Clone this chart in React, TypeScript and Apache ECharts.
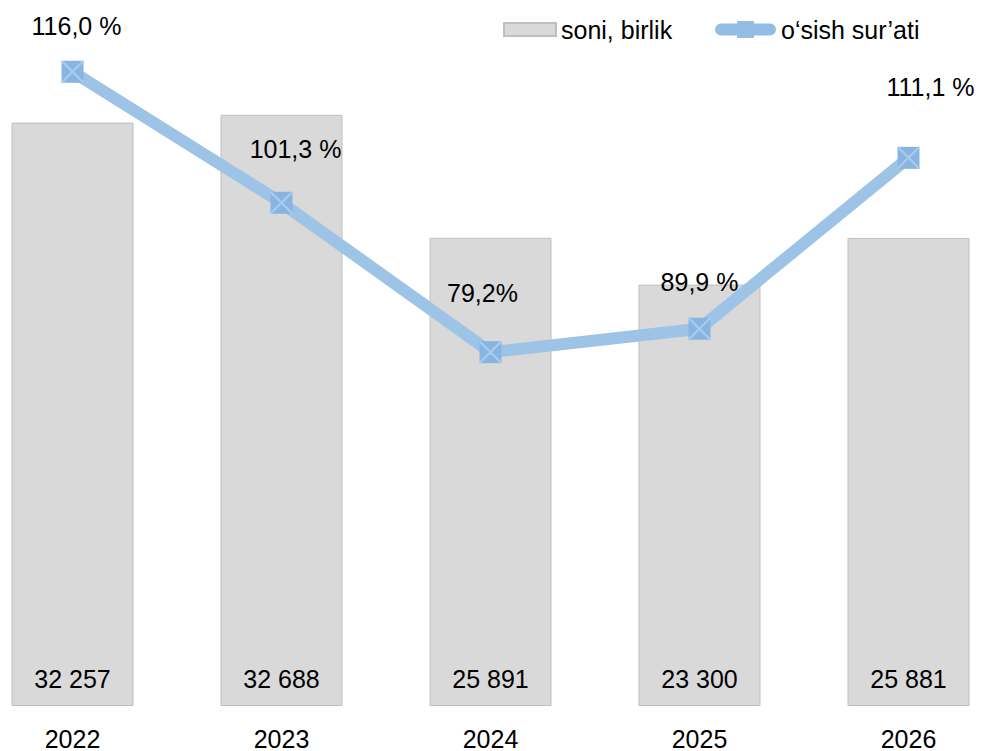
import React, { useEffect, useRef } from "react";
import * as echarts from "echarts";

const years = ["2022", "2023", "2024", "2025", "2026"];
const counts = [32257, 32688, 25891, 23300, 25881];
const countLabels = ["32 257", "32 688", "25 891", "23 300", "25 881"];
// plotted positions of the growth line (on a hidden 0–100 secondary axis)
const growthLinePos = [100.2, 79.5, 55.9, 59.6, 86.6];
const growthLabels = ["116,0 %", "101,3 %", "79,2%", "89,9 %", "111,1 %"];
const growthLabelOffsets = [
  [4, -46],
  [14, -54],
  [-8, -59],
  [0, -47],
  [22, -71],
];

const FONT = "Liberation Sans, Arial, sans-serif";
const X_PATH =
  "path://M0,0 L7,0 L50,43 L93,0 L100,0 L100,7 L57,50 L100,93 L100,100 L93,100 L50,57 L7,100 L0,100 L0,93 L43,50 L0,7 Z";
const LEGEND_LINE_ICON =
  "path://M6,2.5 L55,2.5 A6,6 0 0 1 55,14.5 L6,14.5 A6,6 0 0 1 6,2.5 Z M22,0 L39,0 L39,17 L22,17 Z";

export default function App() {
  const ref = useRef<HTMLDivElement>(null);
  useEffect(() => {
    const chart = echarts.init(ref.current!, null, { renderer: "svg" });
    chart.setOption({
      animation: false,
      backgroundColor: "#ffffff",
      textStyle: { fontFamily: FONT },
      legend: [
        {
          left: 530,
          top: 12,
          itemWidth: 52,
          itemHeight: 13,
          textStyle: { fontFamily: FONT, fontSize: 25, color: "#000" },
          data: [{ name: "soni, birlik", icon: "rect" }],
        },
        {
          left: 742,
          top: 12,
          itemWidth: 61,
          itemHeight: 17,
          itemGap: 2,
          textStyle: { fontFamily: FONT, fontSize: 25, color: "#000" },
          data: [
            {
              name: "o‘sish sur’ati",
              icon: LEGEND_LINE_ICON,
              itemStyle: { color: "#93BDE4" },
            },
          ],
        },
      ],
      grid: { left: 0, right: 0, top: 73, bottom: 43 },
      xAxis: {
        type: "category",
        data: years,
        axisLine: { show: false },
        axisTick: { show: false },
        axisLabel: { fontFamily: FONT, fontSize: 25, color: "#000", margin: 20 },
      },
      yAxis: [
        { type: "value", min: 0, max: 35000, show: false, splitLine: { show: false } },
        { type: "value", min: 0, max: 100, show: false, splitLine: { show: false } },
      ],
      series: [
        {
          name: "soni, birlik",
          type: "bar",
          data: counts,
          barWidth: 122,
          itemStyle: { color: "#D9D9D9", borderColor: "#BFBFBF", borderWidth: 1 },
          label: {
            show: true,
            position: "insideBottom",
            distance: 15,
            fontFamily: FONT,
            fontSize: 25,
            color: "#000",
            formatter: (p: any) => countLabels[p.dataIndex],
          },
        },
        {
          name: "o‘sish sur’ati",
          type: "line",
          yAxisIndex: 1,
          clip: false,
          data: growthLinePos.map((v, i) => ({
            value: v,
            label: { offset: growthLabelOffsets[i] },
          })),
          lineStyle: { color: "#9DC3E6", width: 12 },
          itemStyle: { color: "#87B4E0" },
          symbol: "rect",
          symbolSize: 22,
          z: 3,
          label: {
            show: true,
            position: "inside",
            fontFamily: FONT,
            fontSize: 25,
            color: "#000",
            formatter: (p: any) => growthLabels[p.dataIndex],
          },
        },
        {
          name: "x-mark",
          type: "line",
          yAxisIndex: 1,
          clip: false,
          data: growthLinePos,
          lineStyle: { opacity: 0 },
          symbol: X_PATH,
          symbolSize: 22,
          itemStyle: { color: "#A9CCEC" },
          silent: true,
          z: 4,
        },
      ],
    });
    return () => chart.dispose();
  }, []);
  return (
    <div
      style={{
        position: "fixed",
        left: 0,
        top: 0,
        width: 982,
        height: 751,
        overflow: "hidden",
        background: "#fff",
      }}
    >
      <div
        ref={ref}
        style={{ position: "absolute", left: -32, top: 0, width: 1045, height: 751 }}
      />
    </div>
  );
}
